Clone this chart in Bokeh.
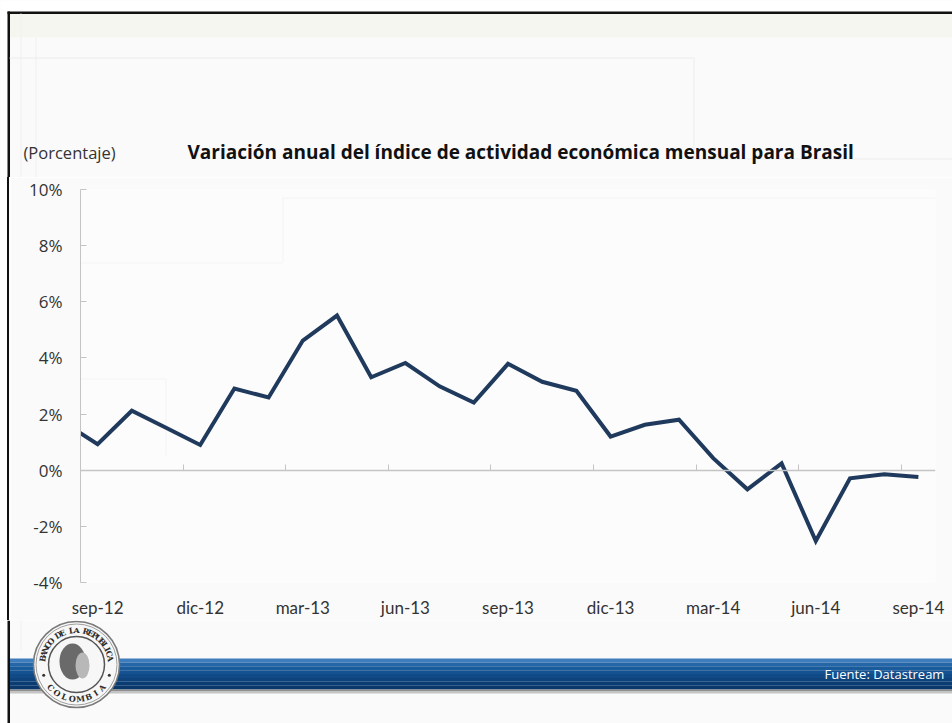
import math
from bokeh.plotting import figure
from bokeh.layouts import column, row
from bokeh.models import (LinearAxis, FixedTicker, BoxAnnotation, Range1d, Div,
                          CustomJSTickFormatter)
from bokeh.core.properties import value
from bokeh.embed import file_html
from bokeh.resources import INLINE

# ---------------- data ----------------
months = ["ago-12", "sep-12", "oct-12", "nov-12", "dic-12", "ene-13", "feb-13", "mar-13",
          "abr-13", "may-13", "jun-13", "jul-13", "ago-13", "sep-13", "oct-13", "nov-13",
          "dic-13", "ene-14", "feb-14", "mar-14", "abr-14", "may-14", "jun-14", "jul-14",
          "ago-14", "sep-14"]
variacion = [1.70, 0.93, 2.12, 1.51, 0.90, 2.91, 2.59, 4.62, 5.51, 3.31, 3.82, 2.99, 2.41,
             3.79, 3.15, 2.83, 1.20, 1.62, 1.80, 0.43, -0.68, 0.24, -2.52, -0.29, -0.14, -0.24]
x_tick_labels = ["sep-12", "dic-12", "mar-13", "jun-13", "sep-13", "dic-13", "mar-14",
                 "jun-14", "sep-14"]
y_ticks = [-4, -2, 0, 2, 4, 6, 8, 10]
title_text = "Variación anual del índice de actividad económica mensual para Brasil"
unit_text = "(Porcentaje)"
source_text = "Fuente: Datastream"
seal_top = "BANCO DE LA REPUBLICA"
seal_bottom = "COLOMBIA"

# month index: sep-12 = 0
xs = [i - 1 for i in range(len(months))]
label_pos = [months.index(m) - 1 for m in x_tick_labels]
boundary_pos = [p + 2.5 for p in label_pos[:-1]]

W, H = 952, 723
TOP_H = 177          # title band height
MID_H = 443          # chart row height
BOT_H = H - TOP_H - MID_H
STRIP_W = 10
FONT = "Lato"
TFONT = "Open Sans"
BG = "#fafafa"
FAINT = "#ebebeb"


def pixel_fig(w, h, y0, y1):
    f = figure(width=w, height=h, output_backend="svg", toolbar_location=None,
               x_range=Range1d(0, w), y_range=Range1d(y1, y0),
               min_border=0, x_axis_location=None, y_axis_location=None)
    f.background_fill_color = BG
    f.border_fill_color = BG
    f.outline_line_color = None
    f.grid.visible = False
    return f


def rect(f, l, t, r, b, color, alpha=1.0):
    f.quad(left=[l], right=[r], top=[t], bottom=[b], fill_color=color,
           fill_alpha=alpha, line_color=None)


# ---------------- top band (title) ----------------
top = pixel_fig(W, TOP_H, 0, TOP_H)
rect(top, 0, 0, W, 11, "#ffffff")
rect(top, 0, 0, 7, TOP_H, "#ffffff")
rect(top, 9, 13, W, 37, "#f6f6f1")
rect(top, 7, 11, W, 13.5, "#111111")
rect(top, 7, 11, 9.5, TOP_H, "#111111")
rect(top, 20, 13, 21, TOP_H, "#efefef")
rect(top, 35, 37, 36, TOP_H, "#efefef")
rect(top, 9, 57, 693, 58, FAINT)
rect(top, 693, 57, 694, 158, FAINT)
rect(top, 693, 158, W, 159, FAINT)
top.text(x=[23], y=[152], text=[unit_text], text_font=value(TFONT),
         text_font_size="16.5px", text_color="#333333", text_baseline="middle")
top.text(x=[187], y=[151], text=[title_text], text_font=value(TFONT),
         text_font_size="19px", text_font_style="bold", text_color="#111111",
         text_baseline="middle")

# ---------------- left strip of the slide border ----------------
strip = Div(text="", width=STRIP_W, height=MID_H, margin=0,
            styles={"background": "linear-gradient(90deg, #ffffff 0px, #ffffff 7px, "
                                  "#111111 7px, #111111 9.5px, #fafafa 9.5px)"})

# ---------------- chart ----------------
FL_ABS, FT_ABS, FW, FH = 80, 189, 855, 393
cw = W - STRIP_W
p = figure(width=cw, height=MID_H, output_backend="svg", toolbar_location=None,
           x_range=Range1d(-0.5, 24.5), y_range=Range1d(-4, 10),
           frame_width=FW, frame_height=FH,
           min_border_left=FL_ABS - STRIP_W, min_border_top=FT_ABS - TOP_H,
           min_border_right=cw - (FL_ABS - STRIP_W) - FW,
           min_border_bottom=MID_H - (FT_ABS - TOP_H) - FH,
           x_axis_location=None, y_axis_location=None)
p.background_fill_color = "#fcfcfc"
p.border_fill_color = BG
p.outline_line_color = None
p.grid.visible = False

yax = LinearAxis(ticker=FixedTicker(ticks=y_ticks),
                 formatter=CustomJSTickFormatter(code="return tick + '%';"))
yax.axis_line_color = "#c4c4c4"
yax.major_tick_line_color = "#c4c4c4"
yax.major_tick_in = 6
yax.major_tick_out = 0
yax.minor_tick_line_color = None
yax.major_label_standoff = 18
yax.major_label_text_font = TFONT
yax.major_label_text_font_size = "17px"
yax.major_label_text_color = "#333333"
p.add_layout(yax, "left")

xlab = LinearAxis(ticker=FixedTicker(ticks=label_pos),
                  major_label_overrides={pos: lbl for pos, lbl in zip(label_pos, x_tick_labels)})
xlab.axis_line_color = None
xlab.major_tick_line_color = None
xlab.minor_tick_line_color = None
xlab.major_label_standoff = 8
xlab.major_label_text_font = FONT
xlab.major_label_text_font_size = "17px"
xlab.major_label_text_color = "#333333"
p.add_layout(xlab, "below")

xzero = LinearAxis(ticker=FixedTicker(ticks=boundary_pos), fixed_location=0)
xzero.axis_line_color = "#c4c4c4"
xzero.axis_line_width = 1.5
xzero.major_tick_line_color = "#c4c4c4"
xzero.major_tick_in = 6
xzero.major_tick_out = 0
xzero.minor_tick_line_color = None
xzero.major_label_text_font_size = "0px"
xzero.major_label_text_color = None
p.add_layout(xzero, "below")


def fbox(l, t, r, b, color):
    # faint background decoration inside the plot frame (canvas px, frame-relative)
    p.add_layout(BoxAnnotation(left=l - FL_ABS, right=r - FL_ABS,
                               top=FT_ABS + FH - t, bottom=FT_ABS + FH - b,
                               left_units="screen", right_units="screen",
                               top_units="screen", bottom_units="screen",
                               fill_color=color, line_color=None, level="underlay"))


fbox(282, 197, W, 198, FAINT)
fbox(282, 197, 283, 262, FAINT)
fbox(80, 262, 282, 263, FAINT)
fbox(80, 378, 165, 379, FAINT)
fbox(165, 378, 166, 455, FAINT)

p.line(xs, variacion, line_color="#1f3a5c", line_width=4, line_join="miter")

# ---------------- bottom band ----------------
bot = pixel_fig(W, BOT_H, TOP_H + MID_H, H)
y0 = TOP_H + MID_H
rect(bot, 0, y0, 7, H, "#ffffff")
rect(bot, 7, y0, 9.5, H, "#111111")
rect(bot, 20, y0, 21, 650, "#efefef")
band_cols = ["#3f7cbc", "#2566a8", "#1a5b9c", "#145292", "#114a87", "#0e437c", "#0c3d72",
             "#0b386a"]
bt, bb = 658, 689
step = (bb - bt) / len(band_cols)
for i, c in enumerate(band_cols):
    rect(bot, 9.5, bt + i * step, W, bt + (i + 1) * step, c)
rect(bot, 9.5, bb, W, bb + 2, "#8e8e8e")
rect(bot, 9.5, bb + 2, W, bb + 4, "#c4c4c4")
bot.text(x=[824], y=[673], text=[source_text], text_font=value(TFONT),
         text_font_size="13px", text_color="#ffffff", text_baseline="middle")

# seal
cx, cy = 76, 664
bot.circle(x=[cx], y=[cy], radius=43, fill_color="#f7f7f7", line_color="#7a7a7a",
           line_width=1.5)
bot.circle(x=[cx], y=[cy], radius=40.5, fill_color=None, line_color="#a0a0a0", line_width=1)
bot.circle(x=[cx], y=[cy], radius=28, fill_color="#f7f7f7", line_color="#555555",
           line_width=1.5)
bot.ellipse(x=[cx - 4], y=[cy - 3], width=26, height=36, fill_color="#6a6a6a",
            line_color=None)
bot.ellipse(x=[cx + 6], y=[cy + 1], width=14, height=26, fill_color="#b8b8b8",
            line_color=None)
n = len(seal_top)
a0, a1 = math.radians(170), math.radians(10)
tx, ty, ta = [], [], []
for i in range(n):
    a = a0 + (a1 - a0) * i / (n - 1)
    tx.append(cx + 34.5 * math.cos(a))
    ty.append(cy - 34.5 * math.sin(a))
    ta.append(a - math.pi / 2)
bot.text(x=tx, y=ty, text=list(seal_top), angle=ta, text_font=value("DejaVu Serif"),
         text_font_size="8px", text_font_style="bold", text_color="#2a2a2a",
         text_align="center", text_baseline="middle")
m = len(seal_bottom)
b0, b1 = math.radians(222), math.radians(318)
bx, by, bang = [], [], []
for i in range(m):
    a = b0 + (b1 - b0) * i / (m - 1)
    bx.append(cx + 34.5 * math.cos(a))
    by.append(cy - 34.5 * math.sin(a))
    bang.append(a + math.pi / 2)
bot.text(x=bx, y=by, text=list(seal_bottom), angle=bang, text_font=value("DejaVu Serif"),
         text_font_size="8px", text_font_style="bold", text_color="#2a2a2a",
         text_align="center", text_baseline="middle")
bot.circle(x=[cx + 34.5 * math.cos(math.radians(198)), cx + 34.5 * math.cos(math.radians(342))],
           y=[cy - 34.5 * math.sin(math.radians(198)), cy - 34.5 * math.sin(math.radians(342))],
           radius=1.5, fill_color="#333333", line_color=None)

layout = column(top, row(strip, p), bot)
open("out.html", "w").write(file_html(layout, INLINE))
